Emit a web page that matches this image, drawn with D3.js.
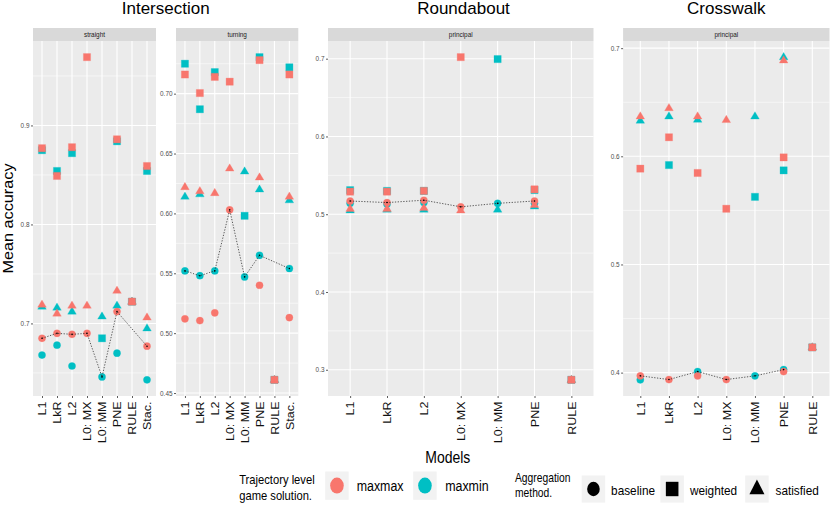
<!DOCTYPE html>
<html><head><meta charset="utf-8">
<script src="https://cdn.jsdelivr.net/npm/d3@7"></script>
<style>body{margin:0;background:#fff} svg text{font-family:"Liberation Sans",Arial,Helvetica,sans-serif}</style>
</head><body><svg id="c" width="830" height="515"></svg>
<script>
// ---------- categories ----------
const models8 = ["L1","LkR","L2","L0:MX","L0:MM","PNE","RULE","Stac."];
const models7 = ["L1","LkR","L2","L0:MX","L0:MM","PNE","RULE"];

// ---------- Intersection / straight ----------
const straight_baseline_maxmax  = [0.685, 0.690, 0.689, 0.690, null, 0.712, null, 0.677];
const straight_baseline_maxmin  = [0.668, 0.678, 0.657, null, 0.646, 0.670, null, 0.643];
const straight_weighted_maxmax  = [0.877, 0.849, 0.878, 0.969, null, 0.886, 0.722, 0.859];
const straight_weighted_maxmin  = [0.875, 0.854, 0.872, null, 0.685, 0.884, 0.722, 0.854];
const straight_satisfied_maxmax = [0.719, 0.710, 0.718, 0.718, null, 0.733, 0.722, 0.706];
const straight_satisfied_maxmin = [0.717, 0.716, 0.712, null, 0.707, 0.718, 0.722, 0.695];
const straight_line             = [0.685, 0.690, 0.689, 0.690, 0.646, 0.712, null, 0.677];
const straight_ticks = [0.7, 0.8, 0.9];

// ---------- Intersection / turning ----------
const turning_baseline_maxmax  = [0.512, 0.5105, 0.517, 0.603, null, 0.540, null, 0.513];
const turning_baseline_maxmin  = [0.552, 0.548, 0.552, null, 0.547, 0.565, null, 0.554];
const turning_weighted_maxmax  = [0.716, 0.7005, 0.714, 0.710, null, 0.728, 0.461, 0.716];
const turning_weighted_maxmin  = [0.725, 0.687, 0.718, null, 0.598, 0.7305, 0.461, 0.722];
const turning_satisfied_maxmax = [0.622, 0.6185, 0.617, 0.6375, null, 0.630, 0.461, 0.614];
const turning_satisfied_maxmin = [0.614, 0.616, null, null, 0.635, 0.620, 0.461, 0.611];
const turning_line             = [0.552, 0.548, 0.552, 0.603, 0.547, 0.565, null, 0.554];
const turning_ticks = [0.45, 0.50, 0.55, 0.60, 0.65, 0.70];

// ---------- Roundabout / principal ----------
const round_baseline_maxmax  = [0.517, 0.515, 0.518, 0.5095, null, 0.517, null];
const round_baseline_maxmin  = [0.514, 0.513, 0.515, null, 0.514, 0.514, null];
const round_weighted_maxmax  = [0.529, 0.529, 0.530, 0.702, null, 0.532, 0.287];
const round_weighted_maxmin  = [0.531, 0.530, 0.530, null, 0.6995, 0.531, 0.287];
const round_satisfied_maxmax = [0.507, 0.507, 0.508, 0.505, null, 0.512, 0.287];
const round_satisfied_maxmin = [0.505, 0.506, 0.506, null, 0.506, 0.510, 0.287];
const round_line             = [0.517, 0.515, 0.518, 0.5095, 0.514, 0.517, null];
const round_ticks = [0.3, 0.4, 0.5, 0.6, 0.7];

// ---------- Crosswalk / principal ----------
const cross_baseline_maxmax  = [0.397, 0.3936, 0.397, 0.3936, null, 0.401, null];
const cross_baseline_maxmin  = [0.3933, null, 0.401, null, 0.397, 0.4028, null];
const cross_weighted_maxmax  = [0.5886, 0.6176, 0.5846, 0.5515, null, 0.599, 0.4233];
const cross_weighted_maxmin  = [null, 0.5919, null, null, 0.5625, 0.587, 0.4233];
const cross_satisfied_maxmax = [0.6369, 0.6446, 0.6369, 0.6336, null, 0.6887, 0.4233];
const cross_satisfied_maxmin = [0.633, 0.6369, 0.6339, null, 0.6369, 0.6917, 0.4233];
const cross_line             = [0.397, 0.3936, 0.401, 0.3936, 0.397, 0.4028, null];
const cross_ticks = [0.4, 0.5, 0.6, 0.7];

const solutions = ["maxmax","maxmin"];
const aggregations = ["baseline","weighted","satisfied"];
const scenarioTitles = ["Intersection","Roundabout","Crosswalk"];

// ---------- drawing ----------
const RED = "#F8766D", TEAL = "#00BFC4";
const colorOf = {maxmax: RED, maxmin: TEAL};
const TOP = 41, BOTTOM = 396;
const svg = d3.select("#c");

function mk(b,w,s){ return {baseline:b, weighted:w, satisfied:s}; }
const panels = [
  {cats:models8, x0:33, x1:156, strip:"straight", ticks:straight_ticks, fmt:".1f", line:straight_line,
   data:{maxmax:mk(straight_baseline_maxmax,straight_weighted_maxmax,straight_satisfied_maxmax),
         maxmin:mk(straight_baseline_maxmin,straight_weighted_maxmin,straight_satisfied_maxmin)}},
  {cats:models8, x0:176, x1:298.3, strip:"turning", ticks:turning_ticks, fmt:".2f", line:turning_line,
   data:{maxmax:mk(turning_baseline_maxmax,turning_weighted_maxmax,turning_satisfied_maxmax),
         maxmin:mk(turning_baseline_maxmin,turning_weighted_maxmin,turning_satisfied_maxmin)}},
  {cats:models7, x0:328, x1:593.5, strip:"principal", ticks:round_ticks, fmt:".1f", line:round_line,
   data:{maxmax:mk(round_baseline_maxmax,round_weighted_maxmax,round_satisfied_maxmax),
         maxmin:mk(round_baseline_maxmin,round_weighted_maxmin,round_satisfied_maxmin)}},
  {cats:models7, x0:623.1, x1:829.5, strip:"principal", ticks:cross_ticks, fmt:".1f", line:cross_line,
   data:{maxmax:mk(cross_baseline_maxmax,cross_weighted_maxmax,cross_satisfied_maxmax),
         maxmin:mk(cross_baseline_maxmin,cross_weighted_maxmin,cross_satisfied_maxmin)}}
];

function shapePath(agg, s){
  if (agg === "baseline") { const r = 3.6*s; return `M${-r},0a${r},${r} 0 1,0 ${2*r},0a${r},${r} 0 1,0 ${-2*r},0Z`; }
  if (agg === "weighted") { const h = 3.6*s; return `M${-h},${-h}H${h}V${h}H${-h}Z`; }
  const w = 4.3*s, t = 4.7*s, b = 2.6*s; return `M0,${-t}L${w},${b}L${-w},${b}Z`;
}

panels.forEach(p => {
  const all = [];
  solutions.forEach(s => aggregations.forEach(a => p.data[s][a].forEach(v => { if (v != null) all.push(v); })));
  const [mn, mx] = d3.extent(all);
  const pad = (mx - mn) * 0.05;
  const y = d3.scaleLinear().domain([mn - pad, mx + pad]).range([BOTTOM, TOP]);
  const x = d3.scalePoint().domain(p.cats).range([p.x0, p.x1]).padding(0.6);
  const g = svg.append("g");
  const W = p.x1 - p.x0;

  g.append("rect").attr("x", p.x0).attr("y", TOP).attr("width", W).attr("height", BOTTOM - TOP).attr("fill", "#ebebeb");
  // minor grid
  const step = p.ticks[1] - p.ticks[0];
  const minor = [];
  for (let i = -1; i < p.ticks.length + 1; i++) {
    const v = p.ticks[0] + step * (i + 0.5);
    if (v > mn - pad && v < mx + pad) minor.push(v);
  }
  g.selectAll(".mn").data(minor).join("line")
    .attr("x1", p.x0).attr("x2", p.x1).attr("y1", d => y(d)).attr("y2", d => y(d))
    .attr("stroke", "#fff").attr("stroke-width", 0.55);
  g.selectAll(".mj").data(p.ticks).join("line")
    .attr("x1", p.x0).attr("x2", p.x1).attr("y1", d => y(d)).attr("y2", d => y(d))
    .attr("stroke", "#fff").attr("stroke-width", 1.1);
  g.selectAll(".vx").data(p.cats).join("line")
    .attr("x1", d => x(d)).attr("x2", d => x(d)).attr("y1", TOP).attr("y2", BOTTOM)
    .attr("stroke", "#fff").attr("stroke-width", 1.1);

  // strip
  g.append("rect").attr("x", p.x0).attr("y", 28).attr("width", W).attr("height", 13).attr("fill", "#d9d9d9");
  g.append("text").attr("x", p.x0 + W / 2).attr("y", 36.8).attr("text-anchor", "middle")
    .attr("font-size", 6.4).attr("fill", "#1a1a1a").text(p.strip);

  // y axis
  const ya = g.append("g").attr("transform", `translate(${p.x0},0)`)
    .call(d3.axisLeft(y).tickValues(p.ticks).tickSize(2).tickPadding(1.5).tickFormat(d3.format(p.fmt)));
  ya.select(".domain").remove();
  ya.selectAll(".tick line").attr("stroke", "#333").attr("stroke-width", 0.8);
  ya.selectAll(".tick text").attr("font-size", 6.4).attr("fill", "#4d4d4d")
    .attr("font-family", "Liberation Sans, Arial, sans-serif");

  // x axis
  const xa = g.append("g").attr("transform", `translate(0,${BOTTOM})`)
    .call(d3.axisBottom(x).tickSize(2).tickPadding(0));
  xa.select(".domain").remove();
  xa.selectAll(".tick line").attr("stroke", "#333").attr("stroke-width", 0.8);
  const SX = 1.19;
  xa.selectAll(".tick text")
    .attr("font-size", 10.5).attr("fill", "#111")
    .attr("font-family", "Liberation Sans, Arial, sans-serif")
    .attr("text-anchor", "end")
    .attr("x", -5.5 / SX).attr("y", 0).attr("dy", "0.36em")
    .attr("transform", `rotate(-90) scale(${SX},1)`)
    .text(d => d.replace(":", ": "));

  // points: maxmin first then maxmax on top
  ["maxmin", "maxmax"].forEach(s => {
    ["weighted", "satisfied", "baseline"].forEach(a => {
      const vals = p.data[s][a];
      const pts = p.cats.map((c, i) => ({c, v: vals[i]})).filter(d => d.v != null);
      g.selectAll(null).data(pts).join("path")
        .attr("transform", d => `translate(${x(d.c)},${y(d.v)})`)
        .attr("d", shapePath(a, 1))
        .attr("fill", colorOf[s])
        .attr("stroke", colorOf[s]).attr("stroke-opacity", 0.35).attr("stroke-width", 0.8);
    });
  });

  // dotted line of best baseline
  const lp = p.cats.map((c, i) => ({c, v: p.line[i]})).filter(d => d.v != null);
  g.append("path").datum(lp)
    .attr("d", d3.line().x(d => x(d.c)).y(d => y(d.v)))
    .attr("fill", "none").attr("stroke", "#333").attr("stroke-width", 0.8)
    .attr("stroke-dasharray", "1.3,1.5");
  g.selectAll(null).data(lp).join("circle")
    .attr("cx", d => x(d.c)).attr("cy", d => y(d.v)).attr("r", 0.8).attr("fill", "#000");
});

// titles
const titleX = [165.7, 463.5, 726.3];
scenarioTitles.forEach((t, i) => {
  svg.append("text").attr("x", titleX[i]).attr("y", 13.8).attr("text-anchor", "middle")
    .attr("font-size", 17).attr("fill", "#000").text(t);
});

// stretched text helper
function stext(x, y, str, size, anchor, k) {
  return svg.append("text").attr("transform", `translate(${x},${y}) scale(1,${k})`)
    .attr("text-anchor", anchor).attr("font-size", size).attr("fill", "#000").text(str);
}

// y title
svg.append("text").attr("transform", `translate(12.5,218.5) rotate(-90) scale(1.16,1)`)
  .attr("text-anchor", "middle").attr("font-size", 14).attr("fill", "#000").text("Mean accuracy");
// x title
stext(447.8, 463, "Models", 14, "middle", 1.16);

// legend 1: game solution
stext(239.2, 484.4, "Trajectory level", 11.2, "start", 1.2);
stext(239.2, 499.8, "game solution.", 11.2, "start", 1.2);
const leg1 = [{lab: "maxmax", kx: 325.2, tx: 356.7, col: RED}, {lab: "maxmin", kx: 413.2, tx: 445.2, col: TEAL}];
leg1.forEach(d => {
  svg.append("rect").attr("x", d.kx).attr("y", 471.5).attr("width", 23.5).attr("height", 28.3).attr("fill", "#f2f2f2");
  svg.append("ellipse").attr("cx", d.kx + 11.75).attr("cy", 485.6).attr("rx", 6.8).attr("ry", 8.0).attr("fill", d.col);
  stext(d.tx, 491.4, d.lab, 12.4, "start", 1.16);
});

// legend 2: aggregation method
stext(515, 481.6, "Aggregation", 10.3, "start", 1.2);
stext(515, 496.5, "method.", 10.3, "start", 1.2);
const leg2 = [{lab: "baseline", kx: 581.7, tx: 611.1}, {lab: "weighted", kx: 660.4, tx: 689.9}, {lab: "satisfied", kx: 745.2, tx: 775.5}];
leg2.forEach((d, i) => {
  svg.append("rect").attr("x", d.kx).attr("y", 475.5).attr("width", 23.5).attr("height", 27.1).attr("fill", "#f2f2f2");
  svg.append("path").attr("transform", `translate(${d.kx + 11.75},${489}) scale(1.75,2.0)`)
    .attr("d", shapePath(aggregations[i], 1)).attr("fill", "#000");
  stext(d.tx, 494.5, d.lab, 11.8, "start", 1.16);
});
</script></body></html>
